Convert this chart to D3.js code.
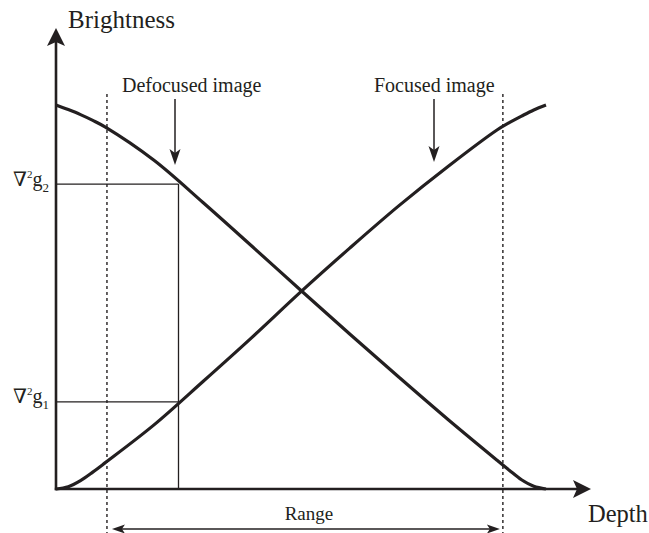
<!DOCTYPE html>
<html>
<head>
<meta charset="utf-8">
<script src="https://cdn.jsdelivr.net/npm/d3@7"></script>
<style>
  html, body { margin: 0; padding: 0; background: #fff; }
  svg { display: block; }
</style>
</head>
<body>
<svg id="chart" width="649" height="533"></svg>
<script>
// ---- data ----
const depth     = [0, 0.25, 0.5, 0.75, 1, 2, 3, 4, 5, 6, 7, 8, 9, 9.25, 9.5, 9.75, 10];
const defocused = [1.0, 0.988, 0.975, 0.960, 0.943, 0.856, 0.746, 0.632, 0.517, 0.403, 0.291, 0.181, 0.075, 0.049, 0.024, 0.007, 0.0];
const focused   = [0.0, 0.006, 0.022, 0.044, 0.068, 0.167, 0.280, 0.395, 0.514, 0.628, 0.738, 0.840, 0.935, 0.954, 0.971, 0.987, 1.0];
const seriesNames = ["Defocused image", "Focused image"];
const refDepth = 2.5;                 // depth where the image is sampled
const levelValues = [0.227, 0.794];   // ∇²g1, ∇²g2
const levelLabels = [["∇", "2", "g", "1"], ["∇", "2", "g", "2"]];
const rangeBounds = [1.04, 9.12];
const rangeLabel = "Range";
const xTitle = "Depth";
const yTitle = "Brightness";

// ---- layout ----
const FONT = "'Liberation Serif', 'Times New Roman', Times, 'DejaVu Serif', serif";
const svg = d3.select("#chart").attr("font-family", FONT);
const ink = "#231f20";
const x = d3.scaleLinear().domain([0, 10]).range([56, 546]);
const y = d3.scaleLinear().domain([0, 1]).range([489, 105]);
const x0 = x(0), y0 = y(0);
const xAxisEnd = 591, yAxisEnd = 28;

function txt(sel) {
  return sel.attr("font-family", FONT).style("font-family", FONT).attr("fill", ink);
}

// dotted range boundaries
rangeBounds.forEach(d => {
  svg.append("line")
    .attr("x1", x(d)).attr("x2", x(d))
    .attr("y1", 94).attr("y2", 533)
    .attr("stroke", ink).attr("stroke-width", 1.4)
    .attr("stroke-dasharray", "3,3");
});

// reference lines
const xr = x(refDepth);
levelValues.forEach(v => {
  svg.append("line")
    .attr("x1", x0).attr("x2", xr)
    .attr("y1", y(v)).attr("y2", y(v))
    .attr("stroke", ink).attr("stroke-width", 1.3);
});
svg.append("line")
  .attr("x1", xr).attr("x2", xr)
  .attr("y1", y(d3.max(levelValues))).attr("y2", y0)
  .attr("stroke", ink).attr("stroke-width", 1.3);

// curves
const line = d3.line()
  .x((d, i) => x(depth[i]))
  .y(d => y(d))
  .curve(d3.curveCatmullRom.alpha(0.5));
[defocused, focused].forEach(s => {
  svg.append("path")
    .attr("d", line(s))
    .attr("fill", "none")
    .attr("stroke", ink)
    .attr("stroke-width", 3.2);
});

// axes
const xAxis = d3.axisBottom(x).tickValues([]).tickSize(0);
const yAxis = d3.axisLeft(y).tickValues(levelValues).tickSize(0).tickFormat("");
const gx = svg.append("g").attr("transform", `translate(0,${y0})`).call(xAxis);
gx.select(".domain").remove();
const gy = svg.append("g").attr("transform", `translate(${x0},0)`).call(yAxis);
gy.select(".domain").remove();
gy.attr("font-family", FONT);

svg.append("line")
  .attr("x1", x0 - 1.2).attr("x2", xAxisEnd - 10)
  .attr("y1", y0).attr("y2", y0)
  .attr("stroke", ink).attr("stroke-width", 2.6);
svg.append("line")
  .attr("x1", x0).attr("x2", x0)
  .attr("y1", y0 + 1.2).attr("y2", yAxisEnd + 10)
  .attr("stroke", ink).attr("stroke-width", 2.6);
// arrowheads
svg.append("path")
  .attr("d", `M${x0},${yAxisEnd} L${x0 + 9},${yAxisEnd + 18} L${x0},${yAxisEnd + 14} L${x0 - 9},${yAxisEnd + 18} Z`)
  .attr("fill", ink);
svg.append("path")
  .attr("d", `M${xAxisEnd},${y0} L${xAxisEnd - 18},${y0 - 9} L${xAxisEnd - 14},${y0} L${xAxisEnd - 18},${y0 + 9} Z`)
  .attr("fill", ink);

// axis titles
txt(svg.append("text")).attr("x", 68).attr("y", 28)
  .attr("font-size", 25).text(yTitle);
txt(svg.append("text")).attr("x", 588).attr("y", 522)
  .attr("font-size", 24.5).text(xTitle);

// y level labels
gy.selectAll(".tick").each(function(d, i) {
  const t = txt(d3.select(this).append("text"))
    .attr("x", -43).attr("y", 1)
    .attr("text-anchor", "start")
    .attr("font-size", 20);
  const p = levelLabels[i];
  t.append("tspan").text(p[0]);
  t.append("tspan").attr("font-size", 11).attr("dy", -8).text(p[1]);
  t.append("tspan").attr("dy", 8).text(p[2]);
  t.append("tspan").attr("font-size", 13).attr("dy", 6).text(p[3]);
});

// series annotations
const annot = [
  { name: seriesNames[0], tx: 122, ax: 175, tip: 165 },
  { name: seriesNames[1], tx: 374, ax: 434, tip: 162 }
];
annot.forEach(a => {
  txt(svg.append("text")).attr("x", a.tx).attr("y", 92)
    .attr("font-size", 20).text(a.name);
  svg.append("line")
    .attr("x1", a.ax).attr("x2", a.ax)
    .attr("y1", 99).attr("y2", a.tip - 8)
    .attr("stroke", ink).attr("stroke-width", 1.5);
  svg.append("path")
    .attr("d", `M${a.ax},${a.tip} L${a.ax - 5.5},${a.tip - 16} L${a.ax},${a.tip - 12} L${a.ax + 5.5},${a.tip - 16} Z`)
    .attr("fill", ink);
});

// range arrow
const ra = x(rangeBounds[0]) + 5, rb = x(rangeBounds[1]) - 3, ry = 529;
svg.append("line")
  .attr("x1", ra + 6).attr("x2", rb - 6)
  .attr("y1", ry).attr("y2", ry)
  .attr("stroke", ink).attr("stroke-width", 1.4);
svg.append("path")
  .attr("d", `M${ra},${ry} L${ra + 13},${ry - 4.5} L${ra + 10},${ry} L${ra + 13},${ry + 4.5} Z`)
  .attr("fill", ink);
svg.append("path")
  .attr("d", `M${rb},${ry} L${rb - 13},${ry - 4.5} L${rb - 10},${ry} L${rb - 13},${ry + 4.5} Z`)
  .attr("fill", ink);
txt(svg.append("text")).attr("x", (ra + rb) / 2 + 3).attr("y", 520)
  .attr("text-anchor", "middle").attr("font-size", 19).text(rangeLabel);
</script>
</body>
</html>
